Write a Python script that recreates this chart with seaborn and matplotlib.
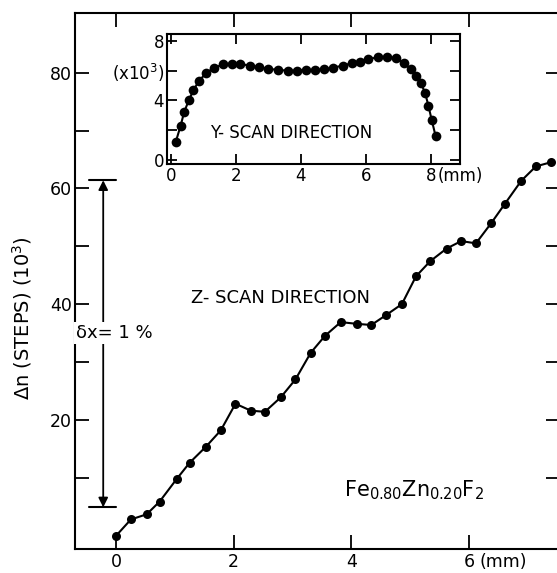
import numpy as np
import pandas as pd
import matplotlib
matplotlib.use("Agg")
import matplotlib.pyplot as plt
import seaborn as sns

# Z-scan (main) data: position (mm) vs Δn (10^3 steps)
z_pos = [0.00, 0.25, 0.52, 0.74, 1.03, 1.25, 1.53, 1.78, 2.03, 2.29,
         2.53, 2.80, 3.05, 3.31, 3.55, 3.82, 4.09, 4.34, 4.59, 4.86,
         5.10, 5.34, 5.62, 5.87, 6.12, 6.38, 6.61, 6.89, 7.14, 7.39]
z_dn = [0.0, 2.8, 3.7, 5.9, 9.8, 12.6, 15.4, 18.2, 22.8, 21.6,
        21.4, 23.9, 27.0, 31.6, 34.5, 36.9, 36.6, 36.4, 38.1, 40.0,
        44.8, 47.4, 49.6, 50.9, 50.5, 54.0, 57.3, 61.3, 63.8, 64.5]

# Y-scan (inset) data: position (mm) vs Δn (10^3 steps)
y_pos = [0.15, 0.30, 0.41, 0.55, 0.69, 0.86, 1.07, 1.32, 1.61, 1.87,
         2.12, 2.43, 2.72, 3.00, 3.30, 3.59, 3.89, 4.15, 4.43, 4.71,
         4.99, 5.28, 5.56, 5.82, 6.07, 6.36, 6.66, 6.91, 7.17, 7.38,
         7.53, 7.69, 7.82, 7.92, 8.02, 8.14]
y_dn = [1.2, 2.3, 3.24, 4.0, 4.7, 5.3, 5.84, 6.2, 6.45, 6.5,
        6.47, 6.36, 6.25, 6.14, 6.07, 6.02, 6.02, 6.07, 6.07, 6.1,
        6.22, 6.36, 6.52, 6.63, 6.79, 6.93, 6.97, 6.86, 6.52, 6.1,
        5.66, 5.17, 4.49, 3.63, 2.68, 1.59]

main_xticks = [0, 2, 4, 6]
main_yticks = [20, 40, 60, 80]
main_yminor = [10, 30, 50, 70]
inset_xticks = [0, 2, 4, 6, 8]
inset_yticks = [0, 2, 4, 6, 8]
inset_ylabels = ["0", "", "4", "(x10$^3$)", "8"]

sns.set_style("ticks")
plt.rcParams["font.family"] = ["DejaVu Sans"]
plt.rcParams["mathtext.fontset"] = "dejavusans"
plt.rcParams["text.color"] = "black"
plt.rcParams["axes.labelcolor"] = "black"

W, H = 557, 573
fig = plt.figure(figsize=(W / 100, H / 100), dpi=100)

# main axes
l, r, b, t = 75 / W, 560 / W, 1 - 549 / H, 1 - 13 / H
ax = fig.add_axes([l, b, r - l, t - b])
zdf = pd.DataFrame({"pos": z_pos, "dn": z_dn})
sns.lineplot(data=zdf, x="pos", y="dn", ax=ax, color="black", marker="o",
             markersize=6.5, markeredgewidth=0, linewidth=1.5, sort=False)
ax.set_xlim(-0.70, 7.55)
ax.set_ylim(-2.3, 90.3)
ax.set_xticks(main_xticks)
ax.set_xticklabels([str(v) for v in main_xticks])
ax.set_yticks(main_yticks)
ax.set_yticklabels([str(v) for v in main_yticks])
ax.set_yticks(main_yminor, minor=True)
ax.tick_params(axis="both", which="both", direction="in", labelsize=12.5,
               width=1.3, color="black", labelcolor="black")
ax.tick_params(axis="x", which="major", length=10, top=True, pad=3)
ax.tick_params(axis="y", which="major", length=10, right=True, pad=2)
ax.tick_params(axis="y", which="minor", length=10, right=True)
for s in ax.spines.values():
    s.set_linewidth(1.5)
    s.set_color("black")
ax.set_xlabel("")
ax.set_ylabel("Δn (STEPS) (10$^3$)", fontsize=14, color="black")
ax.yaxis.set_label_coords(-0.085, 0.43)

ax.annotate("(mm)", xy=(6.18, 0), xycoords=("data", "axes fraction"),
            xytext=(0, -3), textcoords="offset points", ha="left", va="top",
            fontsize=12.5)

# δx arrow
ax.annotate("", xy=(-0.22, 61.4), xytext=(-0.22, 4.9),
            arrowprops=dict(arrowstyle="<|-|>", color="black", lw=1.3,
                            mutation_scale=14, shrinkA=0, shrinkB=0))
ax.plot([-0.46, 0.0], [61.4, 61.4], color="black", lw=1.5)
ax.plot([-0.46, 0.0], [4.9, 4.9], color="black", lw=1.5)
ax.text(-0.03, 35, "δx= 1 %", ha="center", va="center", fontsize=13,
        bbox=dict(facecolor="white", edgecolor="none", pad=1.5))

ax.text(2.8, 41, "Z- SCAN DIRECTION", ha="center", va="center", fontsize=13)
ax.text(5.07, 7.9, "Fe$_{0.80}$Zn$_{0.20}$F$_2$", ha="center", va="center",
        fontsize=15)

# inset axes
il, ir, ib, it = 167 / W, 460 / W, 1 - 164 / H, 1 - 34 / H
ia = fig.add_axes([il, ib, ir - il, it - ib])
ydf = pd.DataFrame({"pos": y_pos, "dn": y_dn})
sns.lineplot(data=ydf, x="pos", y="dn", ax=ia, color="black", marker="o",
             markersize=7, markeredgewidth=0, linewidth=1.5, sort=False)
ia.set_xlim(-0.12, 8.89)
ia.set_ylim(-0.3, 8.5)
ia.set_xticks(inset_xticks)
ia.set_xticklabels([str(v) for v in inset_xticks])
ia.set_yticks(inset_yticks)
ia.set_yticklabels(inset_ylabels)
ia.tick_params(axis="both", which="both", direction="in", labelsize=12,
               length=7, width=1.3, top=True, right=True, pad=2,
               color="black", labelcolor="black")
for s in ia.spines.values():
    s.set_linewidth(1.5)
    s.set_color("black")
ia.set_xlabel("")
ia.set_ylabel("")
ia.annotate("(mm)", xy=(8.2, 0), xycoords=("data", "axes fraction"),
            xytext=(0, -2), textcoords="offset points", ha="left", va="top",
            fontsize=12)
ia.text(3.7, 1.8, "Y- SCAN DIRECTION", ha="center", va="center", fontsize=12)

fig.savefig("out.png", dpi=100, facecolor="white")
